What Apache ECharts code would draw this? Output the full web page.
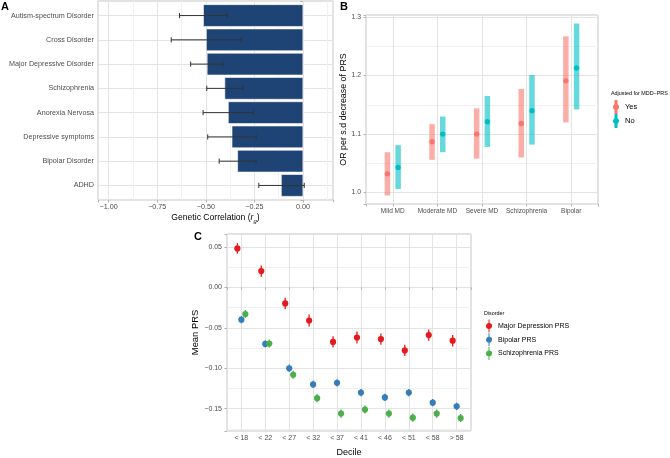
<!DOCTYPE html>
<html><head><meta charset="utf-8">
<script src="https://cdn.jsdelivr.net/npm/echarts@6/dist/echarts.min.js"></script>
<style>html,body{margin:0;padding:0;background:#fff}#c{width:670px;height:458px}</style>
</head><body><div id="c"></div>
<script>
// ---------- Panel A data ----------
const disordersA = ['Autism-spectrum Disorder','Cross Disorder','Major Depressive Disorder','Schizophrenia','Anorexia Nervosa','Depressive symptoms','Bipolar Disorder','ADHD'];
const rgValues = [-0.512, -0.497, -0.493, -0.402, -0.384, -0.365, -0.336, -0.111];
const rgLower  = [-0.635, -0.678, -0.578, -0.495, -0.514, -0.490, -0.431, -0.227];
const rgUpper  = [-0.389, -0.317, -0.412, -0.308, -0.253, -0.241, -0.241, 0.007];

// ---------- Panel B data ----------
const groupsB = ['Mild MD','Moderate MD','Severe MD','Schizophrenia','Bipolar'];
const orYes   = [1.032, 1.087, 1.100, 1.118, 1.191];
const orYesLo = [0.995, 1.056, 1.058, 1.060, 1.120];
const orYesHi = [1.069, 1.117, 1.144, 1.177, 1.267];
const orNo    = [1.043, 1.100, 1.121, 1.140, 1.213];
const orNoLo  = [1.006, 1.069, 1.078, 1.082, 1.142];
const orNoHi  = [1.081, 1.130, 1.165, 1.201, 1.289];

// ---------- Panel C data ----------
const deciles = ['< 18','< 22','< 27','< 32','< 37','< 41','< 46','< 51','< 58','> 58'];
const mddPRS = [0.048, 0.020, -0.020, -0.041, -0.0675, -0.062, -0.064, -0.078, -0.059, -0.066];
const mddSE  = [0.0065, 0.007, 0.007, 0.0073, 0.007, 0.0073, 0.007, 0.007, 0.007, 0.007];
const bipPRS = [-0.040, -0.070, -0.100, -0.120, -0.118, -0.130, -0.136, -0.130, -0.1425, -0.147];
const bipSE  = [0.0045, 0.0045, 0.0045, 0.0045, 0.0045, 0.0045, 0.0045, 0.0045, 0.0045, 0.0045];
const sczPRS = [-0.033, -0.0695, -0.108, -0.137, -0.156, -0.151, -0.156, -0.161, -0.156, -0.1615];
const sczSE  = [0.005, 0.005, 0.005, 0.005, 0.005, 0.005, 0.005, 0.005, 0.005, 0.005];

const FONT = '"Liberation Sans", Arial, sans-serif';
const GRID_C = '#e3e3e3', MINOR_C = '#f1f1f1', BORDER_C = '#c4c4c4', TICK_C = '#4d4d4d';

function isMult(v, s){ return Math.abs(v/s - Math.round(v/s)) < 1e-6; }
function fmt(v, s, d){ const r = Math.round(v/s)*s; return (r < -1e-9 ? '\u2212' : '') + Math.abs(r).toFixed(d); }

function baseAxis(extra){
  return Object.assign({
    axisLine:{show:false},
    axisTick:{show:true, length:2.5, lineStyle:{color:'#b3b3b3', width:1}},
    splitLine:{show:true, lineStyle:{color:GRID_C, width:1}},
    nameTextStyle:{fontFamily:FONT, fontSize:9, color:'#000'}
  }, extra);
}
function lbl(size, margin, f){ return {fontFamily:FONT, fontSize:size, color:TICK_C, margin:margin, formatter:f}; }

const chart = echarts.init(document.getElementById('c'), null, {renderer:'canvas'});

const pathB = 'path://M2.5,0H5.5V4.4A3,3 0 0 1 5.5,9.6V14H2.5V9.6A3,3 0 0 1 2.5,4.4Z';
const pathC = 'path://M3.5,0H4.5V3.54A3,3 0 0 1 4.5,9.46V13H3.5V9.46A3,3 0 0 1 3.5,3.54Z';

function pointRange(off, color){
  return function(params, api){
    const x = api.value(0) + off;
    const top = api.coord([x, api.value(3)]);
    const bot = api.coord([x, api.value(2)]);
    const mid = api.coord([x, api.value(1)]);
    const w = 5.5;
    return {type:'group', children:[
      {type:'rect', shape:{x:top[0]-w/2, y:top[1], width:w, height:bot[1]-top[1]}, style:{fill:color, opacity:0.6}},
      {type:'circle', shape:{cx:mid[0], cy:mid[1], r:2.7}, style:{fill:color}}
    ]};
  };
}
function pointErr(off, color){
  return function(params, api){
    const x = api.value(0) + off;
    const v = api.value(1), se = api.value(2);
    const top = api.coord([x, v+se]);
    const bot = api.coord([x, v-se]);
    const mid = api.coord([x, v]);
    return {type:'group', children:[
      {type:'line', shape:{x1:top[0], y1:top[1], x2:bot[0], y2:bot[1]}, style:{stroke:color, lineWidth:1.3}},
      {type:'circle', shape:{cx:mid[0], cy:mid[1], r:3.1}, style:{fill:color}}
    ]};
  };
}

const option = {
  animation:false,
  textStyle:{fontFamily:FONT},
  grid:[
    {left:98, top:1, width:235, height:199, show:true, borderColor:BORDER_C, borderWidth:1},
    {left:366, top:15, width:232, height:189, show:true, borderColor:BORDER_C, borderWidth:1},
    {left:227, top:234, width:244, height:204, show:true, borderColor:BORDER_C, borderWidth:1}
  ],
  xAxis:[
    baseAxis({gridIndex:0, type:'value', min:-1.055, max:0.155, minInterval:0.25, maxInterval:0.25,
      minorTick:{show:false, splitNumber:2}, minorSplitLine:{show:true, lineStyle:{color:MINOR_C, width:1}},
      axisLabel:lbl(7.2, 4, v => isMult(v,0.25) ? fmt(v,0.25,2) : ''),
      name:'Genetic Correlation ({i|r}{s|g})', nameLocation:'middle', nameGap:12,
      nameTextStyle:{fontFamily:FONT, fontSize:8.6, color:'#000',
        rich:{i:{fontFamily:FONT, fontSize:8.6, fontStyle:'italic', color:'#000'},
              s:{fontFamily:FONT, fontSize:6, fontStyle:'italic', color:'#000', verticalAlign:'bottom', padding:[6,0,0,0]}}}
    }),
    baseAxis({gridIndex:1, type:'value', min:0.4, max:5.6, minInterval:1, maxInterval:1,
      axisLabel:lbl(6.5, 4, v => isMult(v,1) ? groupsB[Math.round(v)-1] : '')
    }),
    baseAxis({gridIndex:2, type:'value', min:0.4, max:10.6, minInterval:1, maxInterval:1,
      axisLabel:lbl(7, 4, v => isMult(v,1) ? deciles[Math.round(v)-1] : ''),
      name:'Decile', nameLocation:'middle', nameGap:17
    })
  ],
  yAxis:[
    baseAxis({gridIndex:0, type:'value', min:0.4, max:8.6, inverse:true, minInterval:1, maxInterval:1,
      axisLabel:lbl(7.2, 4, v => isMult(v,1) ? disordersA[Math.round(v)-1] : '')
    }),
    baseAxis({gridIndex:1, type:'value', min:0.9805, max:1.3035, minInterval:0.1, maxInterval:0.1,
      minorTick:{show:false, splitNumber:2}, minorSplitLine:{show:true, lineStyle:{color:MINOR_C, width:1}},
      axisLabel:lbl(6.8, 5, v => isMult(v,0.1) ? fmt(v,0.1,1) : ''),
      name:'OR per s.d decrease of PRS', nameLocation:'middle', nameGap:9,
      nameTextStyle:{fontFamily:FONT, fontSize:8.9, color:'#000'}
    }),
    baseAxis({gridIndex:2, type:'value', min:-0.1775, max:0.0658, minInterval:0.05, maxInterval:0.05,
      minorTick:{show:false, splitNumber:2}, minorSplitLine:{show:true, lineStyle:{color:MINOR_C, width:1}},
      axisLabel:lbl(7, 5, v => isMult(v,0.05) ? fmt(v,0.05,2) : ''),
      name:'Mean PRS', nameLocation:'middle', nameGap:17,
      nameTextStyle:{fontFamily:FONT, fontSize:9.4, color:'#000'}
    })
  ],
  legend:[
    {data:['Yes','No'], orient:'vertical', left:613, top:100, padding:0, itemWidth:8, itemHeight:14, itemGap:0,
     icon:pathB, selectedMode:false, textStyle:{fontFamily:FONT, fontSize:7.5, color:'#000'}},
    {data:['Major Depression PRS','Bipolar PRS','Schizophrenia PRS'], orient:'vertical', left:486, top:319.5, padding:0,
     itemWidth:8, itemHeight:13, itemGap:0.7, icon:pathC, selectedMode:false,
     textStyle:{fontFamily:FONT, fontSize:7, color:'#000'}}
  ],
  graphic:[
    {type:'text', left:1, top:1, style:{text:'A', font:'bold 11px '+FONT, fill:'#000'}},
    {type:'text', left:340, top:1, style:{text:'B', font:'bold 11px '+FONT, fill:'#000'}},
    {type:'text', left:194, top:231, style:{text:'C', font:'bold 11px '+FONT, fill:'#000'}},
    {type:'text', left:611, top:91, style:{text:'Adjusted for MDD\u2212PRS', font:'5.4px '+FONT, fill:'#000'}},
    {type:'text', left:484, top:311.5, style:{text:'Disorder', font:'5.4px '+FONT, fill:'#000'}}
  ],
  series:[
    {type:'custom', xAxisIndex:0, yAxisIndex:0, z:2,
     data: rgValues.map((v,i)=>[v, i+1]),
     renderItem:function(params, api){
       const y = api.value(1);
       const p0 = api.coord([0, y]), p1 = api.coord([api.value(0), y]);
       const h = Math.abs(api.size([0, 0.9])[1]);
       return {type:'rect', shape:{x:p1[0], y:p0[1]-h/2, width:p0[0]-p1[0], height:h},
               style:{fill:'#1e4476', stroke:'#ffffff', lineWidth:0.6}};
     }},
    {type:'custom', xAxisIndex:0, yAxisIndex:0, z:3,
     data: rgValues.map((v,i)=>[rgLower[i], rgUpper[i], i+1]),
     renderItem:function(params, api){
       const y = api.value(2);
       const a = api.coord([api.value(0), y]), b = api.coord([api.value(1), y]);
       const c = 2.6;
       const st = {stroke:'#333333', lineWidth:1};
       return {type:'group', children:[
         {type:'line', shape:{x1:a[0], y1:a[1], x2:b[0], y2:b[1]}, style:st},
         {type:'line', shape:{x1:a[0], y1:a[1]-c, x2:a[0], y2:a[1]+c}, style:st},
         {type:'line', shape:{x1:b[0], y1:b[1]-c, x2:b[0], y2:b[1]+c}, style:st}
       ]};
     }},
    {type:'custom', name:'Yes', xAxisIndex:1, yAxisIndex:1, itemStyle:{color:'#F8766D'},
     data: orYes.map((v,i)=>[i+1, v, orYesLo[i], orYesHi[i]]), renderItem: pointRange(-0.12, '#F8766D')},
    {type:'custom', name:'No', xAxisIndex:1, yAxisIndex:1, itemStyle:{color:'#00BFC4'},
     data: orNo.map((v,i)=>[i+1, v, orNoLo[i], orNoHi[i]]), renderItem: pointRange(0.12, '#00BFC4')},
    {type:'custom', name:'Major Depression PRS', xAxisIndex:2, yAxisIndex:2, itemStyle:{color:'#E41A1C'},
     data: mddPRS.map((v,i)=>[i+1, v, mddSE[i]]), renderItem: pointErr(-0.167, '#E41A1C')},
    {type:'custom', name:'Bipolar PRS', xAxisIndex:2, yAxisIndex:2, itemStyle:{color:'#377EB8'},
     data: bipPRS.map((v,i)=>[i+1, v, bipSE[i]]), renderItem: pointErr(0, '#377EB8')},
    {type:'custom', name:'Schizophrenia PRS', xAxisIndex:2, yAxisIndex:2, itemStyle:{color:'#4DAF4A'},
     data: sczPRS.map((v,i)=>[i+1, v, sczSE[i]]), renderItem: pointErr(0.167, '#4DAF4A')}
  ]
};
chart.setOption(option);
</script>
</body></html>
